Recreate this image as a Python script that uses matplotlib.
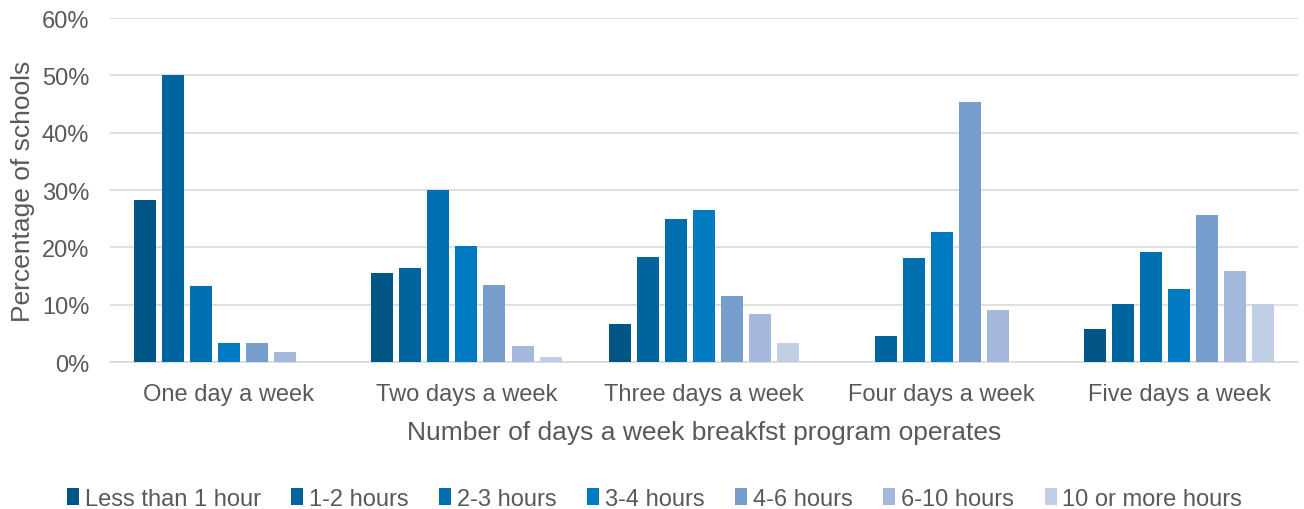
import matplotlib
matplotlib.use("Agg")
import matplotlib.pyplot as plt
import numpy as np
from matplotlib.ticker import PercentFormatter

plt.rcParams['font.family'] = ['Liberation Sans', 'DejaVu Sans']

categories = ["One day a week", "Two days a week", "Three days a week",
              "Four days a week", "Five days a week"]
series_names = ["Less than 1 hour", "1-2 hours", "2-3 hours", "3-4 hours",
                "4-6 hours", "6-10 hours", "10 or more hours"]

less_than_1 = [28.3, 15.5, 6.6, 0.0, 5.7]
h1_2 = [50.0, 16.4, 18.3, 4.5, 10.2]
h2_3 = [13.3, 30.0, 25.0, 18.2, 19.2]
h3_4 = [3.3, 20.3, 26.6, 22.7, 12.8]
h4_6 = [3.3, 13.5, 11.6, 45.4, 25.6]
h6_10 = [1.7, 2.8, 8.3, 9.1, 15.9]
h10_plus = [0.0, 0.9, 3.3, 0.0, 10.2]

series = [less_than_1, h1_2, h2_3, h3_4, h4_6, h6_10, h10_plus]
colors = ["#005587", "#00649E", "#006FB0", "#007BC2", "#769DCC", "#A3B8DA", "#C1CFE6"]

text_color = "#595959"

fig = plt.figure(figsize=(13.04, 5.10), dpi=100)
ax = fig.add_axes([0.0844, 0.2882, 0.9110, 0.6745])

x = np.arange(len(categories))
step = 0.118
width = 0.0926
n = len(series)
for i, (vals, name, c) in enumerate(zip(series, series_names, colors)):
    offs = (i - (n - 1) / 2) * step
    ax.bar(x + offs, vals, width=width, color=c, label=name, zorder=3)

ax.set_xlim(-0.5, len(categories) - 0.5)
ax.set_ylim(0, 60)
ax.set_yticks(np.arange(0, 61, 10))
ax.yaxis.set_major_formatter(PercentFormatter(decimals=0))
ax.set_xticks(x)
ax.set_xticklabels(categories)

ax.grid(axis='y', color="#D9D9D9", linewidth=1.2, zorder=0)
for s in ['top', 'right', 'left']:
    ax.spines[s].set_visible(False)
ax.spines['bottom'].set_color("#D9D9D9")
ax.spines['bottom'].set_linewidth(1.2)
ax.tick_params(axis='both', length=0, labelsize=17, colors=text_color)
ax.tick_params(axis='x', pad=15)
ax.tick_params(axis='y', pad=15)

ax.set_xlabel("Number of days a week breakfst program operates", fontsize=19,
              color=text_color, labelpad=11)
ax.set_ylabel("Percentage of schools", fontsize=19, color=text_color, labelpad=5)

leg = fig.legend(loc='lower center', bbox_to_anchor=(0.502, -0.043), ncol=7,
                 frameon=False, fontsize=17, handlelength=0.5, handleheight=0.75,
                 handletextpad=0.25, columnspacing=1.3, labelcolor=text_color)

fig.savefig("out.png", dpi=100)
